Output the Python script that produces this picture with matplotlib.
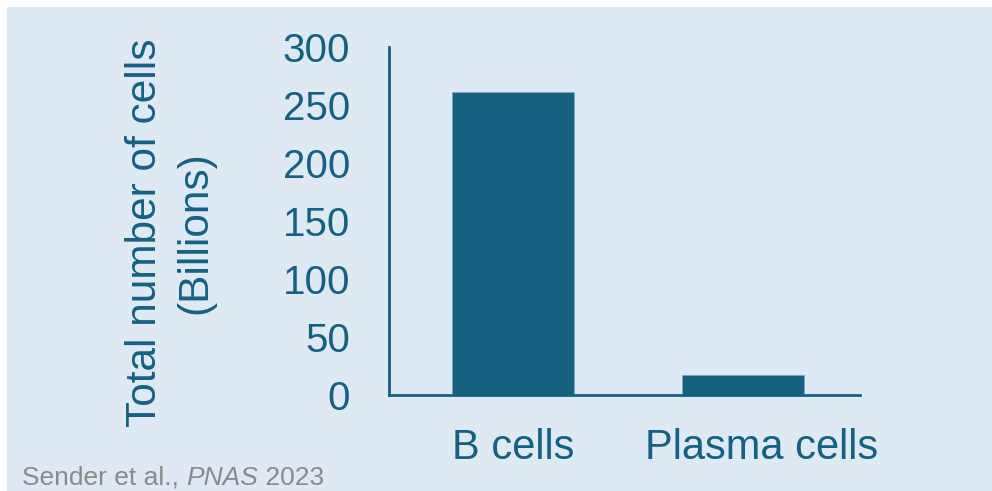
import matplotlib
matplotlib.use("Agg")
import matplotlib.pyplot as plt
from matplotlib.patches import Rectangle
from matplotlib.transforms import ScaledTranslation

categories = ["B cells", "Plasma cells"]
values = [261, 17]
yticks = [0, 50, 100, 150, 200, 250, 300]
ylabel = "Total number of cells\n(Billions)"
citation_plain = "Sender et al., "
citation_italic = "PNAS"
citation_year = " 2023"

BG = "#dfe9f4"
DARK = "#166082"
GRAY = "#8a8a8a"

plt.rcParams["font.family"] = ["Liberation Sans", "DejaVu Sans"]

W, H = 992, 491
fig = plt.figure(figsize=(W / 100, H / 100), dpi=100, facecolor="white")
fig.patches.append(Rectangle((7 / W, 0), 1 - 7 / W, 1 - 7 / H,
                             transform=fig.transFigure, facecolor=BG,
                             edgecolor="none", zorder=-10))

ax = fig.add_axes([389 / W, (H - 395) / H, (860 - 389) / W, (395 - 47) / H])
ax.set_facecolor("none")
x = list(range(len(categories)))
ax.bar(x, values, width=0.53, color=DARK, edgecolor="#7fa6c0", linewidth=0.6)
ax.set_xlim(-0.54, 1.51)
ax.set_ylim(0, 300)
ax.set_yticks(yticks)
ax.set_yticklabels([str(t) for t in yticks], fontsize=29, color=DARK)
ax.set_xticks(x)
ax.set_xticklabels(categories, fontsize=30, color=DARK)
ax.tick_params(axis="y", length=0, pad=28)
ax.tick_params(axis="x", length=0, pad=24)
for s in ["top", "right"]:
    ax.spines[s].set_visible(False)
for s in ["left", "bottom"]:
    ax.spines[s].set_color(DARK)
    ax.spines[s].set_linewidth(2)

# second label slightly right of its bar as in reference
lab = ax.get_xticklabels()[1]
lab.set_transform(lab.get_transform() + ScaledTranslation(0.19, 0, fig.dpi_scale_trans))

fig.text(170 / W, (H - 233) / H, ylabel, rotation=90, ha="center", va="center",
         multialignment="center", fontsize=30.5, color=DARK, linespacing=1.35)

t1 = fig.text(22 / W, (H - 485) / H, citation_plain, fontsize=19, color=GRAY,
              ha="left", va="baseline")
fig.canvas.draw()
r = fig.canvas.get_renderer()
bb = t1.get_window_extent(r)
t2 = fig.text(bb.x1 / W, (H - 485) / H, citation_italic, fontsize=19, color=GRAY,
              style="italic", ha="left", va="baseline")
bb2 = t2.get_window_extent(r)
fig.text(bb2.x1 / W, (H - 485) / H, citation_year, fontsize=19, color=GRAY,
         ha="left", va="baseline")

fig.savefig("out.png", dpi=100, facecolor="white")
